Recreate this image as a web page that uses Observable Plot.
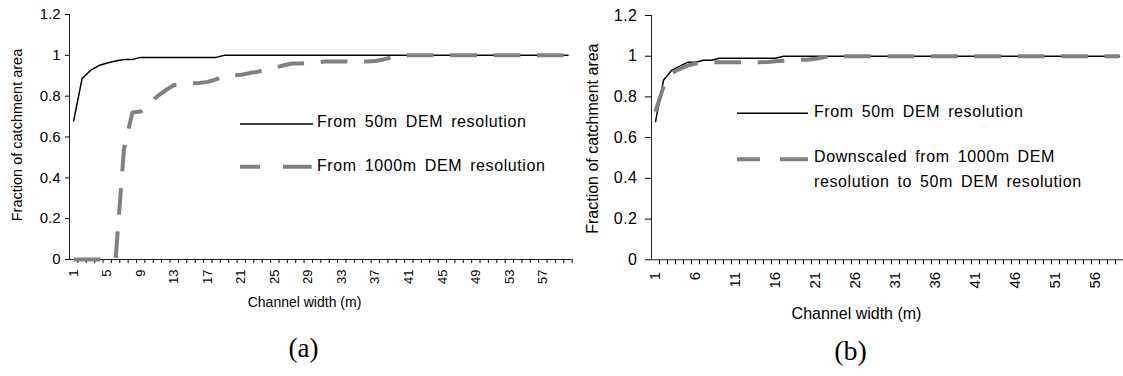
<!DOCTYPE html>
<html>
<head>
<meta charset="utf-8">
<script src="https://cdn.jsdelivr.net/npm/d3@7"></script>
<script src="https://cdn.jsdelivr.net/npm/@observablehq/plot@0.6"></script>
<style>
  html, body { margin: 0; padding: 0; background: white; }
  #wrap { position: relative; width: 1123px; height: 376px; overflow: hidden; background: white;
          font-family: "Liberation Sans", Arial, sans-serif; color: black; }
  .panel { position: absolute; top: 0; }
  .leg { position: absolute; font-size: 16px; line-height: 20px; letter-spacing: 0.6px; word-spacing: 3px; white-space: nowrap; }
</style>
</head>
<body>
<div id="wrap">
  <div id="left" class="panel" style="left:0px"></div>
  <div id="right" class="panel" style="left:560px"></div>
  <svg id="legsw" width="1123" height="376" style="position:absolute;left:0;top:0;pointer-events:none">
    <line x1="240" y1="124" x2="313" y2="124" stroke="black" stroke-width="1.5"/>
    <line x1="240" y1="166.7" x2="311.7" y2="166.7" stroke="#808080" stroke-width="4" stroke-dasharray="20 23 28.7"/>
    <line x1="737" y1="113.3" x2="808" y2="113.3" stroke="black" stroke-width="1.5"/>
    <line x1="737" y1="159.3" x2="808" y2="159.3" stroke="#808080" stroke-width="4" stroke-dasharray="23 20 28"/>
  </svg>
  <div class="leg" style="left:317px;top:112px">From 50m DEM resolution</div>
  <div class="leg" style="left:317px;top:155.7px">From 1000m DEM resolution</div>
  <div class="leg" style="left:814px;top:102.3px">From 50m DEM resolution</div>
  <div class="leg" style="left:814px;top:144.2px;line-height:25px">Downscaled from 1000m DEM<br>resolution to 50m DEM resolution</div>
</div>
<script>
// ---------- data ----------
const leftWidths = [1,2,3,4,5,6,7,8,9,10,11,12,13,14,15,16,17,18,19,20,21,22,23,24,25,26,27,28,29,30,
  31,32,33,34,35,36,37,38,39,40,41,42,43,44,45,46,47,48,49,50,51,52,53,54,55,56,57,58,59,60];
const left50m = [0.68,0.886,0.926,0.95,0.962,0.972,0.98,0.98,0.99,0.99,
  0.99,0.99,0.99,0.99,0.99,0.99,0.99,0.99,1,1,
  1,1,1,1,1,1,1,1,1,1,
  1,1,1,1,1,1,1,1,1,1,
  1,1,1,1,1,1,1,1,1,1,
  1,1,1,1,1,1,1,1,1,1];
const left1000m = [0,0,0,0,0,0,0.54,0.72,0.725,0.76,
  0.8,0.83,0.855,0.86,0.862,0.865,0.87,0.882,0.9,0.902,
  0.905,0.913,0.92,0.93,0.94,0.95,0.96,0.96,0.963,0.965,
  0.97,0.97,0.97,0.97,0.97,0.97,0.972,0.98,0.99,1,
  1,1,1,1,1,1,1,1,1,1,
  1,1,1,1,1,1,1,1,1,1];
const leftTickLabels = [1,5,9,13,17,21,25,29,33,37,41,45,49,53,57];

const rightWidths = [1,2,3,4,5,6,7,8,9,10,11,12,13,14,15,16,17,18,19,20,21,22,23,24,25,26,27,28,29,30,
  31,32,33,34,35,36,37,38,39,40,41,42,43,44,45,46,47,48,49,50,51,52,53,54,55,56,57,58,59];
const right50m = [0.679,0.882,0.93,0.95,0.97,0.97,0.98,0.98,0.99,0.99,
  0.99,0.99,0.99,0.99,0.99,0.99,1,1,1,1,
  1,1,1,1,1,1,1,1,1,1,
  1,1,1,1,1,1,1,1,1,1,
  1,1,1,1,1,1,1,1,1,1,
  1,1,1,1,1,1,1,1,1];
const rightDownscaled = [0.728,0.85,0.918,0.937,0.954,0.964,0.967,0.97,0.97,0.97,
  0.97,0.97,0.97,0.97,0.972,0.975,0.978,0.98,0.982,0.983,
  0.987,0.995,1,1,1,1,1,1,1,1,
  1,1,1,1,1,1,1,1,1,1,
  1,1,1,1,1,1,1,1,1,1,
  1,1,1,1,1,1,1,1,1];
const rightTickLabels = [1,6,11,16,21,26,31,36,41,46,51,56];
const yTicks = [0,0.2,0.4,0.6,0.8,1,1.2];
const yTitle = "Fraction of catchment area";
const xTitle = "Channel width (m)";

// ---------- helpers ----------
const rows = (xs, ys) => xs.map((x, i) => ({x, y: ys[i]}));
const bounds = (n) => d3.range(n + 1).map(i => i + 0.5);
const fmt = d => String(Math.round(d * 10) / 10);
const sans = "'Liberation Sans', Arial, sans-serif";
const serif = "'Liberation Serif', 'Times New Roman', serif";
const grayDash = {stroke: "#808080", strokeWidth: 4, strokeDasharray: "26.7,16.7", strokeLinecap: "butt", strokeLinejoin: "miter"};
const mid = {textAnchor: "middle", lineAnchor: "middle"};

// ---------- left panel ----------
const left = Plot.plot({
  width: 572, height: 376,
  marginLeft: 69, marginRight: 0.3, marginTop: 14, marginBottom: 117,
  x: {domain: [0.5, leftWidths.length + 0.5], label: null},
  y: {domain: [0, 1.2], label: null},
  style: {fontFamily: sans, background: "transparent", overflow: "visible", color: "black"},
  marks: [
    Plot.axisY(yTicks, {tickSize: 4, tickPadding: 5, fontSize: 15, tickFormat: fmt, label: null}),
    Plot.axisX(bounds(leftWidths.length).slice(1), {tickSize: 4, tickFormat: () => "", label: null}),
    Plot.axisX(leftTickLabels, {tickSize: 0, tickPadding: 10, tickRotate: -90, fontSize: 13, label: null}),
    Plot.ruleX([0.5], {stroke: "#222"}),
    Plot.ruleY([0], {stroke: "#222"}),
    Plot.line(rows(leftWidths, left50m), {x: "x", y: "y", stroke: "black", strokeWidth: 1.5}),
    Plot.line(rows(leftWidths, left1000m), {x: "x", y: "y", ...grayDash}),
    Plot.text([yTitle], {text: d => d, frameAnchor: "left", rotate: -90, dx: -51.7, dy: -2, fontSize: 14.5, ...mid}),
    Plot.text([xTitle], {text: d => d, frameAnchor: "bottom", dx: -16.35, dy: 43, fontSize: 14, ...mid}),
    Plot.text(["(a)"], {text: d => d, frameAnchor: "bottom", dx: -17.35, dy: 89, fontSize: 27, fontFamily: serif, ...mid})
  ]
});
document.getElementById("left").append(left);

// ---------- right panel ----------
const right = Plot.plot({
  width: 563, height: 376,
  marginLeft: 91, marginRight: 0, marginTop: 15, marginBottom: 116.7,
  x: {domain: [0.5, rightWidths.length + 0.5], label: null},
  y: {domain: [0, 1.2], label: null},
  style: {fontFamily: sans, background: "transparent", overflow: "visible", color: "black"},
  marks: [
    Plot.axisY(yTicks, {tickSize: 6, tickPadding: 8, fontSize: 16, tickFormat: fmt, label: null}),
    Plot.axisX(bounds(rightWidths.length).slice(1), {tickSize: 5, tickFormat: () => "", label: null}),
    Plot.axisX(rightTickLabels, {tickSize: 0, tickPadding: 12, tickRotate: -90, fontSize: 15, label: null}),
    Plot.ruleX([0.5], {stroke: "#222"}),
    Plot.ruleY([0], {stroke: "#222"}),
    Plot.line(rows(rightWidths, right50m), {x: "x", y: "y", stroke: "black", strokeWidth: 1.5}),
    Plot.line(rows(rightWidths, rightDownscaled), {x: "x", y: "y", ...grayDash}),
    Plot.text([yTitle], {text: d => d, frameAnchor: "left", rotate: -90, dx: -58.7, dy: 1, fontSize: 16, ariaLabel: "title", ...mid}),
    Plot.text([xTitle], {text: d => d, frameAnchor: "bottom", dx: -31, dy: 53.7, fontSize: 16, ariaLabel: "title", ...mid}),
    Plot.text(["(b)"], {text: d => d, frameAnchor: "bottom", dx: -37, dy: 91.7, fontSize: 28, fontFamily: serif, ...mid})
  ]
});
document.getElementById("right").append(right);
right.querySelectorAll('g[aria-label="title"]').forEach(g => g.setAttribute("letter-spacing", "1"));
right.querySelectorAll('g[aria-label="y-axis tick label"]').forEach(g => g.setAttribute("letter-spacing", "0.5"));
</script>
</body>
</html>
